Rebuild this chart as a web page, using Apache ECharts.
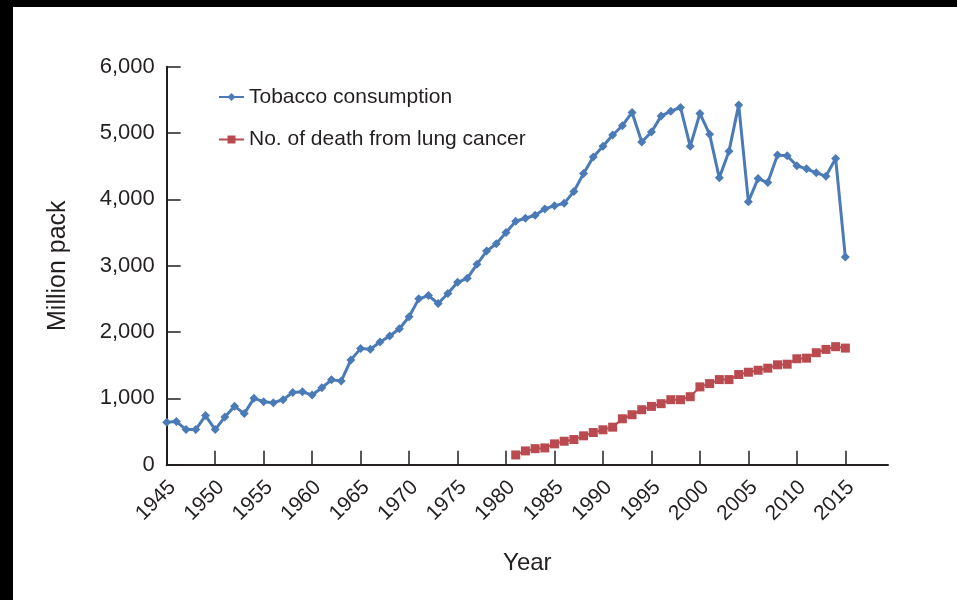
<!DOCTYPE html>
<html>
<head>
<meta charset="utf-8">
<title>Tobacco consumption and lung cancer deaths</title>
<script src="https://cdn.jsdelivr.net/npm/echarts@6/dist/echarts.min.js"></script>
<style>
  html, body { margin: 0; padding: 0; background: #fff; }
  #chart { position: absolute; left: 0; top: 0; width: 957px; height: 600px; background: #fff; }
  .edge { position: absolute; background: #000; }
</style>
</head>
<body>
<div id="chart"></div>
<div class="edge" style="left:0;top:0;width:957px;height:7px;"></div>
<div class="edge" style="left:0;top:0;width:13px;height:600px;"></div>
<script>
// Annual tobacco consumption (million packs), 1945-2015
const tobaccoStartYear = 1945;
const tobaccoValues = [
  640, 650, 530, 530, 740, 530, 720, 880, 770, 1000,
  950, 935, 980, 1090, 1100, 1050, 1160, 1280, 1260, 1580,
  1750, 1740, 1850, 1940, 2050, 2230, 2500, 2550, 2430, 2580,
  2750, 2810, 3020, 3220, 3330, 3500, 3670, 3715, 3760, 3855,
  3905, 3940, 4120, 4390, 4640, 4800, 4970, 5110, 5310, 4865,
  5015, 5255, 5330, 5385, 4800, 5295, 4980, 4325, 4727, 5424,
  3965, 4314, 4253, 4667, 4657, 4506, 4460, 4400, 4350, 4617,
  3130
];

// Annual number of deaths from lung cancer, 1981-2015
const deathStartYear = 1981;
const deathValues = [
  147, 208, 242, 253, 314, 354, 379, 435, 485, 526,
  566, 692, 753, 829, 879, 920, 980, 980, 1025, 1173,
  1223, 1283, 1283, 1359, 1394, 1424, 1455, 1506, 1515, 1597,
  1606, 1688, 1738, 1779, 1758
];

const yearTicks = [1945, 1950, 1955, 1960, 1965, 1970, 1975, 1980, 1985, 1990, 1995, 2000, 2005, 2010, 2015];
const valueTicks = [0, 1000, 2000, 3000, 4000, 5000, 6000];

const seriesNames = ['Tobacco consumption', 'No. of death from lung cancer'];

function pairs(startYear, values) {
  return values.map((v, i) => [startYear + i, v]);
}

const textColor = '#231f20';
const font = "'Liberation Sans', Arial, Helvetica, sans-serif";

const chart = echarts.init(document.getElementById('chart'), null, { renderer: 'canvas' });

chart.setOption({
  backgroundColor: '#fff',
  animation: false,
  textStyle: { fontFamily: font, color: textColor },
  grid: { left: 166.7, right: 69, top: 66.7, bottom: 135.3, containLabel: false },
  legend: {
    orient: 'vertical',
    left: 218,
    top: 86,
    padding: 0,
    itemWidth: 25,
    itemHeight: 10,
    itemGap: 20.5,
    textStyle: { fontSize: 21, color: textColor, fontFamily: font, lineHeight: 22 },
    data: seriesNames
  },
  xAxis: {
    type: 'value',
    min: 1945,
    max: 2019.4,
    interval: 5,
    name: 'Year',
    nameLocation: 'middle',
    nameGap: 87,
    nameTextStyle: { fontSize: 24, color: textColor, fontFamily: font },
    axisLine: { show: true, lineStyle: { color: textColor, width: 2 } },
    axisTick: { show: true, inside: true, length: 14, customValues: yearTicks, lineStyle: { color: textColor, width: 1.5 } },
    axisLabel: {
      customValues: yearTicks,
      rotate: 45,
      margin: 25,
      padding: [14, -8, 0, 0],
      fontSize: 21,
      color: textColor,
      fontFamily: font,
      formatter: v => String(v)
    },
    splitLine: { show: false }
  },
  yAxis: {
    type: 'value',
    min: 0,
    max: 6000,
    interval: 1000,
    name: 'Million pack',
    nameLocation: 'middle',
    nameGap: 96,
    nameTextStyle: { fontSize: 25, color: textColor, fontFamily: font },
    axisLine: { show: true, lineStyle: { color: textColor, width: 2 } },
    axisTick: { show: true, inside: true, length: 14, customValues: valueTicks, lineStyle: { color: textColor, width: 1.5 } },
    axisLabel: {
      customValues: valueTicks,
      margin: 12,
      fontSize: 22,
      color: textColor,
      fontFamily: font,
      formatter: v => v.toLocaleString('en-US')
    },
    splitLine: { show: false }
  },
  series: [
    {
      name: seriesNames[0],
      type: 'line',
      data: pairs(tobaccoStartYear, tobaccoValues),
      symbol: 'diamond',
      symbolSize: 9,
      itemStyle: { color: '#4a7bb7' },
      lineStyle: { color: '#4a7bb7', width: 3 }
    },
    {
      name: seriesNames[1],
      type: 'line',
      data: pairs(deathStartYear, deathValues),
      symbol: 'rect',
      symbolSize: 9,
      itemStyle: { color: '#b94a4f' },
      lineStyle: { color: '#b94a4f', width: 2 }
    }
  ]
});
</script>
</body>
</html>
